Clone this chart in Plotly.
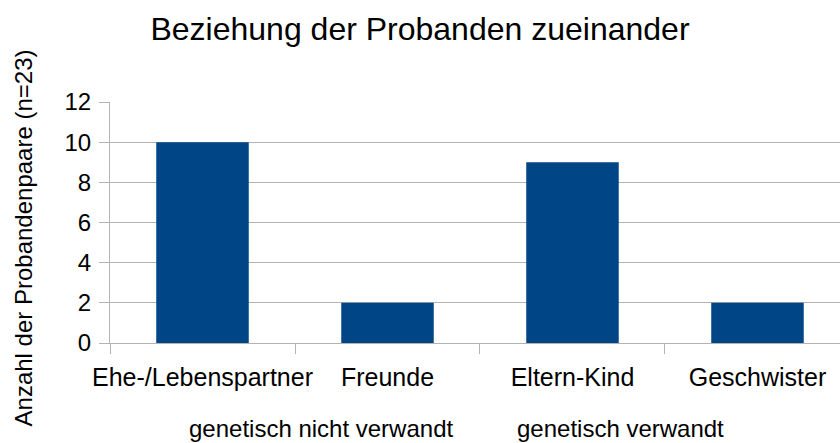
import plotly.graph_objects as go

categories = ["Ehe-/Lebenspartner", "Freunde", "Eltern-Kind", "Geschwister"]
values = [10, 2, 9, 2]
group_labels = ["genetisch nicht verwandt", "genetisch verwandt"]
group_label_x = [0.64, 2.257]
y_ticks = [0, 2, 4, 6, 8, 10, 12]

FONT = "Liberation Sans"
GRID = "#b3b3b3"

fig = go.Figure(
    go.Bar(x=categories, y=values, marker=dict(color="#004586", line=dict(width=0)))
)

for lbl, gx in zip(group_labels, group_label_x):
    fig.add_annotation(
        text=lbl, x=gx, xref="x", y=-0.353, yref="paper",
        showarrow=False, xanchor="center", yanchor="middle",
        font=dict(family=FONT, size=24, color="black"),
    )

fig.add_annotation(
    text="Anzahl der Probandenpaare (n=23)", textangle=-90,
    x=-0.1192, xref="paper", y=0.438, yref="paper",
    showarrow=False, xanchor="center", yanchor="middle",
    font=dict(family=FONT, size=24, color="black"),
)

fig.update_layout(
    width=840, height=443,
    margin=dict(l=110, r=0, t=102, b=100, autoexpand=False),
    paper_bgcolor="white", plot_bgcolor="white",
    bargap=0.5,
    showlegend=False,
    title=dict(
        text="Beziehung der Probanden zueinander",
        x=0.5, xref="container", xanchor="center",
        y=0.9345, yref="container", yanchor="middle",
        font=dict(family=FONT, size=32, color="black"),
    ),
    font=dict(family=FONT, color="black"),
)

fig.update_xaxes(
    type="category",
    range=[-0.5, 3.446],
    tickson="boundaries",
    ticks="outside", ticklen=10, tickcolor=GRID, tickwidth=1,
    showline=True, linecolor=GRID, linewidth=1,
    showgrid=False,
    tickangle=0,
    automargin=False,
    tickfont=dict(family=FONT, size=25, color="black"),
    ticklabelstandoff=12,
)

fig.update_yaxes(
    range=[0, 12],
    tickvals=y_ticks,
    ticks="outside", ticklen=10, tickcolor=GRID, tickwidth=1,
    showline=True, linecolor=GRID, linewidth=1,
    showgrid=True, gridcolor=GRID, gridwidth=1,
    zeroline=False,
    automargin=False,
    tickfont=dict(family=FONT, size=24, color="black"),
    ticklabelstandoff=3,
)

fig.write_html("out.html", config={"displayModeBar": False},
               post_script="document.body.style.margin='0';")
